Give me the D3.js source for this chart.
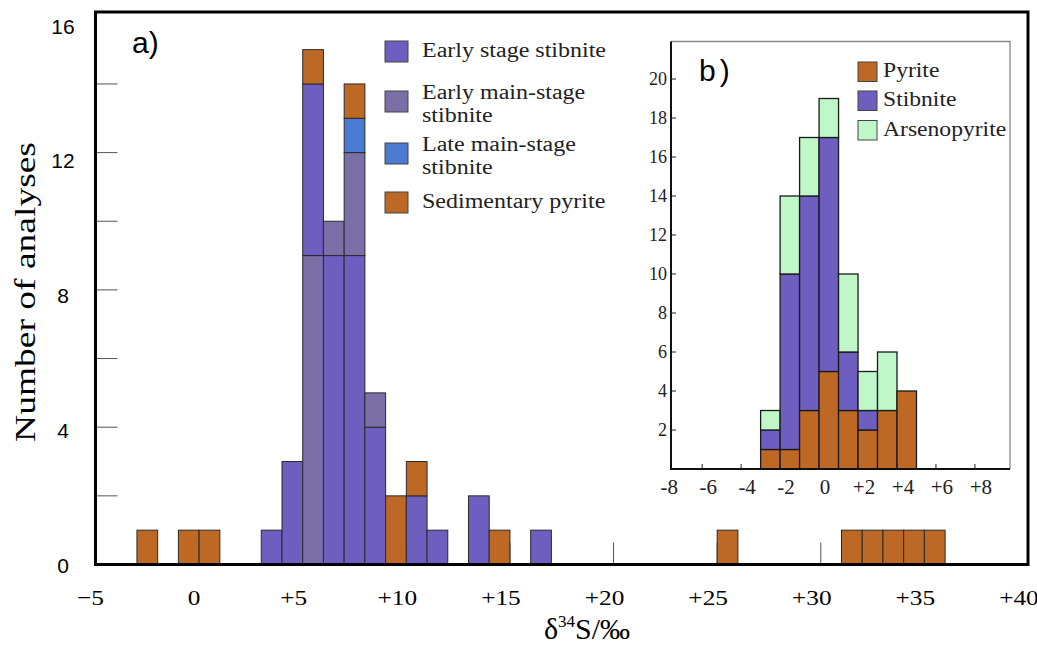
<!DOCTYPE html>
<html>
<head>
<meta charset="utf-8">
<script src="https://cdn.jsdelivr.net/npm/d3@7"></script>
<style>
  body { margin: 0; background: #fff; }
  svg { display: block; }
</style>
</head>
<body>
<div id="chart"></div>
<script>
// ---- panel a) data: 1 per mil bins, start value of each bin
const binStart   = [-3, -1, 0, 3, 4, 5, 6, 7, 8, 9, 10, 11, 13, 14, 16, 25, 31, 32, 33, 34, 35];
const earlyStage = [ 0,  0, 0, 1, 3, 5, 9, 9, 4, 0,  2,  1,  2,  0,  1,  0,  0,  0,  0,  0,  0];
const earlyMain  = [ 0,  0, 0, 0, 0, 9, 1, 3, 1, 0,  0,  0,  0,  0,  0,  0,  0,  0,  0,  0,  0];
const lateMain   = [ 0,  0, 0, 0, 0, 0, 0, 1, 0, 0,  0,  0,  0,  0,  0,  0,  0,  0,  0,  0,  0];
const sedPyrite  = [ 1,  1, 1, 0, 0, 1, 0, 1, 0, 2,  1,  0,  0,  1,  0,  1,  1,  1,  1,  1,  1];
const mainXTicks = [-5, 0, 5, 10, 15, 20, 25, 30, 35, 40];
const mainXLabels = ['\u22125', '0', '+5', '+10', '+15', '+20', '+25', '+30', '+35', '+40'];
const mainYLabels = [0, 4, 8, 12, 16];

// ---- panel b) data
const insetBins = [-3, -2, -1, 0, 1, 2, 3, 4];
const pyrite    = [1, 1, 3, 5, 3, 2, 3, 4];
const stibnite  = [1, 9, 11, 12, 3, 1, 0, 0];
const arseno    = [1, 4, 3, 2, 4, 2, 3, 0];
const insetXTicks = [-8, -6, -4, -2, 0, 2, 4, 6, 8];
const insetXLabels = ['-8', '-6', '-4', '-2', '0', '+2', '+4', '+6', '+8'];
const insetYTicks = [2, 4, 6, 8, 10, 12, 14, 16, 18, 20];

const colors = {
    earlyStage: '#6d5ec0',
    earlyMain: '#7a6fa7',
    lateMain: '#4a7bd1',
    sedPyrite: '#bd6824',
    pyrite: '#bd6824',
    stibnite: '#6d5ec0',
    arseno: '#bff7c9'
};
const serif = "'Liberation Serif', 'Times New Roman', serif";
const sans = "'Liberation Sans', Arial, sans-serif";

const W = 1037, H = 648;
const svg = d3.select('#chart').append('svg')
    .attr('width', W)
    .attr('height', H);

// widen serif text a bit, the source figure uses a broad Times
const stretch = (sel, k) => sel.each(function () {
    const len = this.getComputedTextLength();
    d3.select(this).attr('textLength', len * k).attr('lengthAdjust', 'spacingAndGlyphs');
});

// ================= panel a =================
const x = d3.scaleLinear([-5, 40], [95.5, 1028]);
const y = d3.scaleLinear([0, 16], [564.5, 15.3]);
const yLab = d3.scaleLinear([0, 16], [565, 26]);

// inner ticks (under the bars)
svg.append('g')
    .selectAll('line')
    .data(mainXTicks.slice(1, -1))
    .join('line')
        .attr('x1', d => x(d)).attr('x2', d => x(d))
        .attr('y1', y(0)).attr('y2', y(0) - 22)
        .attr('stroke', '#555').attr('stroke-width', 1);

svg.append('g')
    .selectAll('line')
    .data(d3.range(2, 16, 2))
    .join('line')
        .attr('x1', x(-5)).attr('x2', x(-5) + 22)
        .attr('y1', d => y(d)).attr('y2', d => y(d))
        .attr('stroke', '#555').attr('stroke-width', 1);

// stacked bars
const series = { earlyStage, earlyMain, lateMain, sedPyrite };
const defaultOrder = ['earlyStage', 'earlyMain', 'lateMain', 'sedPyrite'];
const orderFor = { 5: ['earlyMain', 'earlyStage', 'lateMain', 'sedPyrite'] };

const segments = [];
binStart.forEach((b, i) => {
    let acc = 0;
    (orderFor[b] || defaultOrder).forEach(k => {
        const v = series[k][i];
        if (v > 0) {
            segments.push({ b, key: k, y0: acc, y1: acc + v });
            acc += v;
        }
    });
});

svg.append('g')
    .selectAll('rect')
    .data(segments)
    .join('rect')
        .attr('x', d => x(d.b))
        .attr('width', d => x(d.b + 1) - x(d.b))
        .attr('y', d => y(d.y1))
        .attr('height', d => y(d.y0) - y(d.y1))
        .attr('fill', d => colors[d.key])
        .attr('stroke', '#2a2a2a')
        .attr('stroke-width', 1);

// frame
svg.append('rect')
    .attr('x', x(-5)).attr('y', 12)
    .attr('width', x(40) - x(-5)).attr('height', y(0) - 12)
    .attr('fill', 'none').attr('stroke', '#000').attr('stroke-width', 3);

// tick labels
svg.append('g')
    .selectAll('text')
    .data(mainXTicks)
    .join('text')
        .attr('x', (d, i) => x(d) - (i === 0 || d === 0 ? 5 : 9))
        .attr('y', 605)
        .attr('text-anchor', 'middle')
        .attr('font-family', serif)
        .attr('font-size', 22)
        .text((d, i) => mainXLabels[i])
        .call(stretch, 1.15);

svg.append('g')
    .selectAll('text')
    .data(mainYLabels)
    .join('text')
        .attr('x', 63)
        .attr('y', d => yLab(d))
        .attr('dy', '0.36em')
        .attr('text-anchor', 'middle')
        .attr('font-family', sans)
        .attr('font-size', 21)
        .text(d => d);

// axis titles
svg.append('text')
    .attr('transform', 'translate(35,292) rotate(-90)')
    .attr('text-anchor', 'middle')
    .attr('font-family', serif)
    .attr('font-size', 30)
    .text('Number of analyses')
    .call(stretch, 1.25);

const xt = svg.append('text')
    .attr('x', 587).attr('y', 639)
    .attr('text-anchor', 'middle')
    .attr('font-family', serif)
    .attr('font-size', 30);
xt.append('tspan').text('\u03b4');
xt.append('tspan').attr('font-size', 17).attr('dy', -12).text('34');
xt.append('tspan').attr('dy', 12).text('S/\u2030');

svg.append('text')
    .attr('x', 132).attr('y', 53)
    .attr('font-family', sans)
    .attr('font-size', 30)
    .text('a)');

// legend a
const legendA = [
    { key: 'earlyStage', lines: ['Early stage stibnite'], top: 41 },
    { key: 'earlyMain', lines: ['Early main-stage', 'stibnite'], top: 91 },
    { key: 'lateMain', lines: ['Late main-stage', 'stibnite'], top: 143 },
    { key: 'sedPyrite', lines: ['Sedimentary pyrite'], top: 192 }
];
const la = svg.append('g')
    .selectAll('g')
    .data(legendA)
    .join('g');
la.append('rect')
    .attr('x', 385).attr('y', d => d.top)
    .attr('width', 23).attr('height', 21)
    .attr('fill', d => colors[d.key])
    .attr('stroke', '#444').attr('stroke-width', 1);
la.each(function (d) {
    const g = d3.select(this);
    d.lines.forEach((t, j) => {
        g.append('text')
            .attr('x', 422)
            .attr('y', d.top + (d.lines.length > 1 ? 8 + j * 23 : 16))
            .attr('font-family', serif)
            .attr('font-size', 20)
            .attr('fill', '#222')
            .text(t)
            .call(stretch, 1.2);
    });
});

// ================= panel b (inset) =================
const xi = d3.scaleLinear([-7.6, 9.8], [671, 1010]);
const yi = d3.scaleLinear([0, 20], [469, 79]);

svg.append('rect')
    .attr('x', xi(-7.6)).attr('y', 41.5)
    .attr('width', xi(9.8) - xi(-7.6)).attr('height', yi(0) - 41.5)
    .attr('fill', '#fff');

const insetSeries = { pyrite, stibnite, arseno };
const insetSegs = [];
insetBins.forEach((b, i) => {
    let acc = 0;
    ['pyrite', 'stibnite', 'arseno'].forEach(k => {
        const v = insetSeries[k][i];
        if (v > 0) {
            insetSegs.push({ b, key: k, y0: acc, y1: acc + v });
            acc += v;
        }
    });
});

svg.append('g')
    .selectAll('rect')
    .data(insetSegs)
    .join('rect')
        .attr('x', d => xi(d.b))
        .attr('width', d => xi(d.b + 1) - xi(d.b))
        .attr('y', d => yi(d.y1))
        .attr('height', d => yi(d.y0) - yi(d.y1))
        .attr('fill', d => colors[d.key])
        .attr('stroke', '#1a1a1a')
        .attr('stroke-width', 1.3);

// inset border: light top/right, dark left/bottom
const bx0 = xi(-7.6), bx1 = xi(9.8), by0 = 41.5, by1 = yi(0);
svg.append('path')
    .attr('d', `M${bx0},${by0}H${bx1}V${by1}`)
    .attr('fill', 'none').attr('stroke', '#888').attr('stroke-width', 1.3);
svg.append('path')
    .attr('d', `M${bx0},${by0}V${by1}H${bx1}`)
    .attr('fill', 'none').attr('stroke', '#111').attr('stroke-width', 2);

svg.append('g')
    .selectAll('line')
    .data(insetXTicks.filter(d => d > -8))
    .join('line')
        .attr('x1', d => xi(d)).attr('x2', d => xi(d))
        .attr('y1', by1).attr('y2', by1 - 5)
        .attr('stroke', '#222').attr('stroke-width', 1);

svg.append('g')
    .selectAll('line')
    .data(insetYTicks)
    .join('line')
        .attr('x1', bx0).attr('x2', bx0 + 5)
        .attr('y1', d => yi(d)).attr('y2', d => yi(d))
        .attr('stroke', '#222').attr('stroke-width', 1);

svg.append('g')
    .selectAll('text')
    .data(insetXTicks)
    .join('text')
        .attr('x', d => xi(d) + 6)
        .attr('y', 494)
        .attr('text-anchor', 'middle')
        .attr('font-family', serif)
        .attr('font-size', 21)
        .attr('fill', '#222')
        .text((d, i) => insetXLabels[i]);

svg.append('g')
    .selectAll('text')
    .data(insetYTicks)
    .join('text')
        .attr('x', 667)
        .attr('y', d => yi(d))
        .attr('dy', '0.35em')
        .attr('text-anchor', 'end')
        .attr('font-family', serif)
        .attr('font-size', 18)
        .attr('fill', '#222')
        .text(d => d);

svg.append('text')
    .attr('x', 699).attr('y', 81)
    .attr('font-family', sans)
    .attr('font-size', 30)
    .attr('letter-spacing', 4)
    .text('b)');

const legendB = [
    { key: 'pyrite', label: 'Pyrite', top: 62 },
    { key: 'stibnite', label: 'Stibnite', top: 91 },
    { key: 'arseno', label: 'Arsenopyrite', top: 120.5 }
];
const lb = svg.append('g')
    .selectAll('g')
    .data(legendB)
    .join('g');
lb.append('rect')
    .attr('x', 858).attr('y', d => d.top)
    .attr('width', 19).attr('height', 19.5)
    .attr('fill', d => colors[d.key])
    .attr('stroke', '#444').attr('stroke-width', 1);
lb.append('text')
    .attr('x', 883)
    .attr('y', d => d.top + 15)
    .attr('font-family', serif)
    .attr('font-size', 20)
    .attr('fill', '#222')
    .text(d => d.label)
    .call(stretch, 1.18);
</script>
</body>
</html>
